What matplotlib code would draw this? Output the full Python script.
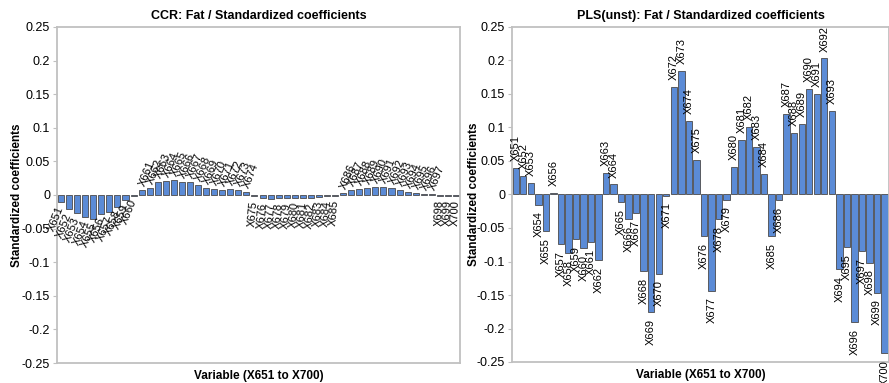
import numpy as np
import matplotlib.pyplot as plt

plt.rcParams['font.family'] = ['Liberation Sans', 'DejaVu Sans']

# variable names X651..X700
variables = ['X%d' % i for i in range(651, 701)]

# CCR standardized coefficients
ccr = [-0.011, -0.021, -0.027, -0.033, -0.036, -0.028, -0.026, -0.018, -0.008, -0.001,
       0.007, 0.011, 0.019, 0.021, 0.022, 0.020, 0.020, 0.015, 0.011, 0.009,
       0.007, 0.009, 0.007, 0.004, -0.002, -0.005, -0.006, -0.005, -0.005, -0.004,
       -0.004, -0.005, -0.003, -0.002, -0.001, 0.003, 0.008, 0.009, 0.011, 0.012,
       0.012, 0.011, 0.008, 0.005, 0.003, 0.002, 0.001, -0.001, -0.001, -0.001]

# PLS(unst) standardized coefficients
pls = [0.040, 0.028, 0.017, -0.015, -0.055, 0.002, -0.074, -0.0875, -0.0665, -0.0805,
       -0.0705, -0.0975, 0.0325, 0.015, -0.011, -0.0365, -0.027, -0.114, -0.1755, -0.118,
       -0.0015, 0.160, 0.184, 0.110, 0.051, -0.062, -0.1435, -0.0365, -0.0075, 0.0405,
       0.0815, 0.101, 0.071, 0.030, -0.062, -0.0075, 0.1195, 0.092, 0.1055, 0.157,
       0.150, 0.203, 0.1245, -0.111, -0.079, -0.191, -0.084, -0.1015, -0.1465, -0.2365]

yticks = [0.25, 0.2, 0.15, 0.1, 0.05, 0, -0.05, -0.1, -0.15, -0.2, -0.25]
ytick_labels = ['0.25', '0.2', '0.15', '0.1', '0.05', '0', '-0.05', '-0.1', '-0.15', '-0.2', '-0.25']

W, H = 889, 383
fig = plt.figure(figsize=(W / 100, H / 100), dpi=100)

bar_color = '#5b8bd6'
edge_color = '#4a4a4a'
spine_color = '#c0c0c0'


def style_axes(ax, title, ylab_x):
    ax.set_ylim(-0.25, 0.25)
    ax.set_yticks(yticks)
    ax.set_yticklabels(ytick_labels, fontsize=9)
    ax.set_xticks([])
    for s in ax.spines.values():
        s.set_color(spine_color)
        s.set_linewidth(1.3)
    ax.tick_params(axis='y', length=3, color=spine_color, pad=2)
    ax.set_title(title, fontsize=9, fontweight='bold', pad=6)
    ax.set_ylabel('Standardized coefficients', fontsize=8.5, fontweight='bold')
    ax.yaxis.set_label_coords(ylab_x, 0.5)
    ax.set_xlabel('Variable (X651 to X700)', fontsize=8.5, fontweight='bold', labelpad=5)


def add_labels(ax, x, vals, rots, off):
    for xi, v, name, r in zip(x, vals, variables, rots):
        if v >= 0:
            ax.annotate(name, (xi, v), xytext=(0, off), textcoords='offset points',
                        rotation=r, rotation_mode='anchor', ha='left', va='center',
                        fontsize=8)
        else:
            ax.annotate(name, (xi, v), xytext=(0, -off), textcoords='offset points',
                        rotation=r, rotation_mode='anchor', ha='right', va='center',
                        fontsize=8)


x = np.arange(len(variables))

# left panel: CCR
ax1 = fig.add_axes([57 / W, (H - 363) / H, (460 - 57) / W, (363 - 27) / H])
ax1.bar(x, ccr, width=0.75, color=bar_color, edgecolor=edge_color, linewidth=0.6)
ax1.set_xlim(-0.5, len(x) - 0.5)
style_axes(ax1, 'CCR: Fat / Standardized coefficients', (23 - 57) / 403)
rot1 = [68] * 10 + [68] * 14 + [85] * 11 + [68] * 12 + [88] * 3
add_labels(ax1, x, ccr, rot1, 3)

# right panel: PLS(unst)
ax2 = fig.add_axes([512 / W, (H - 362) / H, (889 - 512) / W, (362 - 27) / H])
ax2.bar(x, pls, width=0.85, color=bar_color, edgecolor=edge_color, linewidth=0.6)
ax2.set_xlim(-0.5, len(x) - 0.4)
style_axes(ax2, 'PLS(unst): Fat / Standardized coefficients', (480 - 512) / 377)
add_labels(ax2, x, pls, [90] * len(x), 5)

fig.savefig('out.png', dpi=100)
